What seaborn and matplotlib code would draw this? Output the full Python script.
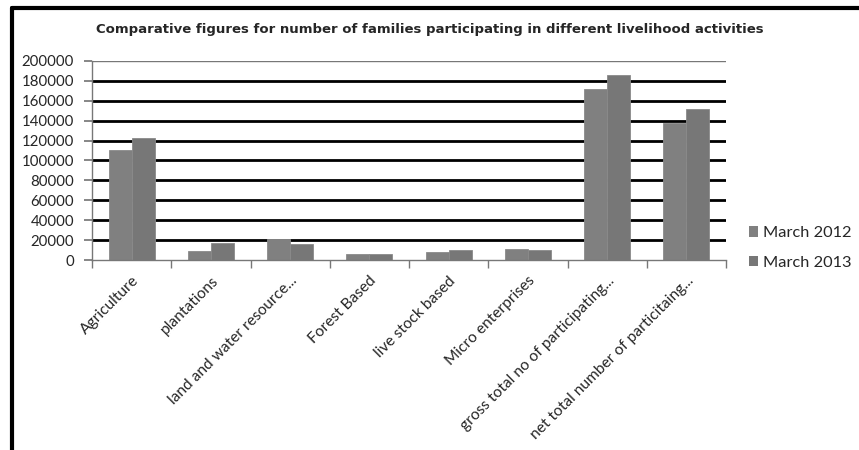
import matplotlib
matplotlib.use("Agg")
import matplotlib.pyplot as plt
import matplotlib.lines as mlines
import matplotlib.patches as mpatches
import seaborn as sns
import pandas as pd

categories = ["Agriculture", "plantations", "land and water resource...", "Forest Based",
              "live stock based", "Micro enterprises", "gross total no of participating...",
              "net total number of particitaing..."]
march_2012 = [111000, 9500, 21000, 6500, 7700, 11000, 171500, 137500]
march_2013 = [123000, 17500, 16500, 6500, 10000, 9700, 186000, 152000]
series_names = ["March 2012", "March 2013"]
yticks = list(range(0, 200001, 20000))

df = pd.DataFrame({
    "category": categories * 2,
    "value": march_2012 + march_2013,
    "series": [series_names[0]] * len(categories) + [series_names[1]] * len(categories),
})

sns.set_theme(style="white")
plt.rcParams["font.family"] = ["Lato", "DejaVu Sans"]

fig = plt.figure(figsize=(8.59, 4.5), dpi=100)
ax = fig.add_axes([92 / 859, 1 - 260 / 450, (726 - 92) / 859, (260 - 61) / 450])

colors = {"March 2012": "#808080", "March 2013": "#777777"}
sns.barplot(data=df, x="category", y="value", hue="series", palette=colors,
            width=0.58, dodge=True, ax=ax, saturation=1, legend=False,
            edgecolor="#8a8a8a", linewidth=0.6)

ax.set_ylim(0, 200000)
ax.set_xlim(-0.5, len(categories) - 0.5)
ax.set_yticks(yticks)
ax.set_yticklabels([str(v) for v in yticks], fontsize=10.8)
ax.set_xlabel("")
ax.set_ylabel("")
for y in yticks[1:-1]:
    ax.axhline(y, color="black", lw=2, zorder=0)
ax.axhline(200000, color="#777777", lw=1, zorder=0)

for s in ["top", "right"]:
    ax.spines[s].set_visible(False)
ax.spines["left"].set_color("#777777")
ax.spines["bottom"].set_color("#777777")
ax.spines["left"].set_linewidth(1)
ax.spines["bottom"].set_linewidth(1)

ax.set_xticks([i + 0.5 for i in range(-1, len(categories))], minor=True)
ax.tick_params(axis="x", which="minor", length=6, direction="out", color="#777777", bottom=True)
ax.tick_params(axis="x", which="major", length=0, pad=10)
ax.tick_params(axis="y", length=6, direction="out", color="#777777", left=True, pad=7)
ax.set_xticks(range(len(categories)))
ax.set_xticklabels(categories, rotation=45, ha="right", rotation_mode="anchor", fontsize=11.2)

fig.text(0.5, 1 - 30 / 450, "Comparative figures for number of families participating in different livelihood activities",
         ha="center", va="center", fontsize=9.5, fontweight="bold", family="DejaVu Sans")

handles = [mpatches.Patch(facecolor=colors[n], edgecolor="none") for n in series_names]
fig.legend(handles, series_names, loc="center left", bbox_to_anchor=(742 / 859, 1 - 248 / 450),
           frameon=False, fontsize=11.8, handlelength=0.6, handleheight=0.6, handletextpad=0.3,
           labelspacing=0.95, borderaxespad=0)

fig.add_artist(mlines.Line2D([12 / 859, 1.0], [1 - 8 / 450, 1 - 8 / 450], color="black", lw=3,
                             transform=fig.transFigure))
fig.add_artist(mlines.Line2D([12 / 859, 12 / 859], [1 - 8 / 450, 0], color="black", lw=3,
                             transform=fig.transFigure))

fig.savefig("out.png", dpi=100)
